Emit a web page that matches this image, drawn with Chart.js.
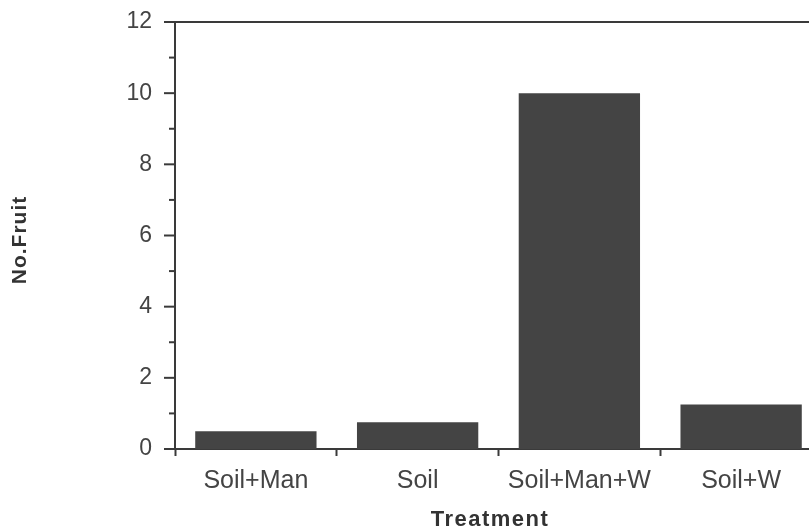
<!DOCTYPE html>
<html>
<head>
<meta charset="utf-8">
<script src="https://cdn.jsdelivr.net/npm/chart.js@4"></script>
<style>
  html, body { margin: 0; padding: 0; background: #fff; overflow: hidden; }
  #wrap { width: 830px; height: 531px; }
</style>
</head>
<body>
<div id="wrap"><canvas id="fruitChart" width="830" height="531"></canvas></div>
<script>
const treatments = ['Soil+Man', 'Soil', 'Soil+Man+W', 'Soil+W'];
const noFruit = [0.5, 0.75, 10, 1.25];
const yMax = 12;
const xTitle = 'Treatment';
const yTitle = 'No.Fruit';

const ink = '#3a3a3a';
const font = '"Liberation Sans", Arial, Helvetica, sans-serif';

// frame bits Chart.js has no option for: short odd ticks, top line, spaced-out titles
const frame = {
    id: 'frame',
    afterDraw(chart) {
        const c = chart.ctx, y = chart.scales.y, a = chart.chartArea;
        c.save();
        c.strokeStyle = ink;
        c.lineWidth = 2;
        for (let v = 0; v <= yMax; v++) {
            const py = y.getPixelForValue(v);
            const len = v % 2 === 0 ? 11 : 6;
            c.beginPath();
            c.moveTo(a.left - len, py);
            c.lineTo(a.left, py);
            c.stroke();
        }
        c.beginPath();
        c.moveTo(a.left - 11, a.top);
        c.lineTo(chart.width, a.top);
        c.stroke();

        c.fillStyle = '#333';
        c.textAlign = 'center';
        c.textBaseline = 'middle';
        c.font = 'bold 22px ' + font;
        c.letterSpacing = '1.5px';
        c.fillText(xTitle, 490, 520);
        c.translate(20, 240);
        c.rotate(-Math.PI / 2);
        c.font = 'bold 21px ' + font;
        c.letterSpacing = '1px';
        c.fillText(yTitle, 0, 0);
        c.restore();
    }
};

const ctx = document.getElementById('fruitChart').getContext('2d');
new Chart(ctx, {
    type: 'bar',
    data: {
        labels: treatments,
        datasets: [{
            label: 'No.Fruit',
            data: noFruit,
            backgroundColor: '#444444',
            borderWidth: 0,
            barPercentage: 0.75,
            categoryPercentage: 1.0
        }]
    },
    options: {
        responsive: false,
        animation: false,
        layout: { padding: { top: 22, right: 8, left: 0, bottom: 0 } },
        plugins: { legend: { display: false }, tooltip: { enabled: false } },
        scales: {
            x: {
                afterFit: s => { s.height = 82; s.paddingLeft = 0; s.paddingRight = 0; },
                grid: {
                    offset: true,
                    drawOnChartArea: false,
                    tickLength: 7,
                    tickColor: ink,
                    tickWidth: 2
                },
                border: { color: ink, width: 2 },
                ticks: {
                    color: '#444',
                    padding: 10,
                    maxRotation: 0,
                    font: { family: font, size: 25 }
                }
            },
            y: {
                min: 0,
                max: yMax,
                afterFit: s => { s.width = 175; s.paddingTop = 0; s.paddingBottom = 0; },
                grid: { display: false },
                border: { color: ink, width: 2 },
                ticks: {
                    stepSize: 2,
                    color: '#444',
                    padding: 15,
                    font: { family: font, size: 23 }
                }
            }
        }
    },
    plugins: [frame]
});
</script>
</body>
</html>
